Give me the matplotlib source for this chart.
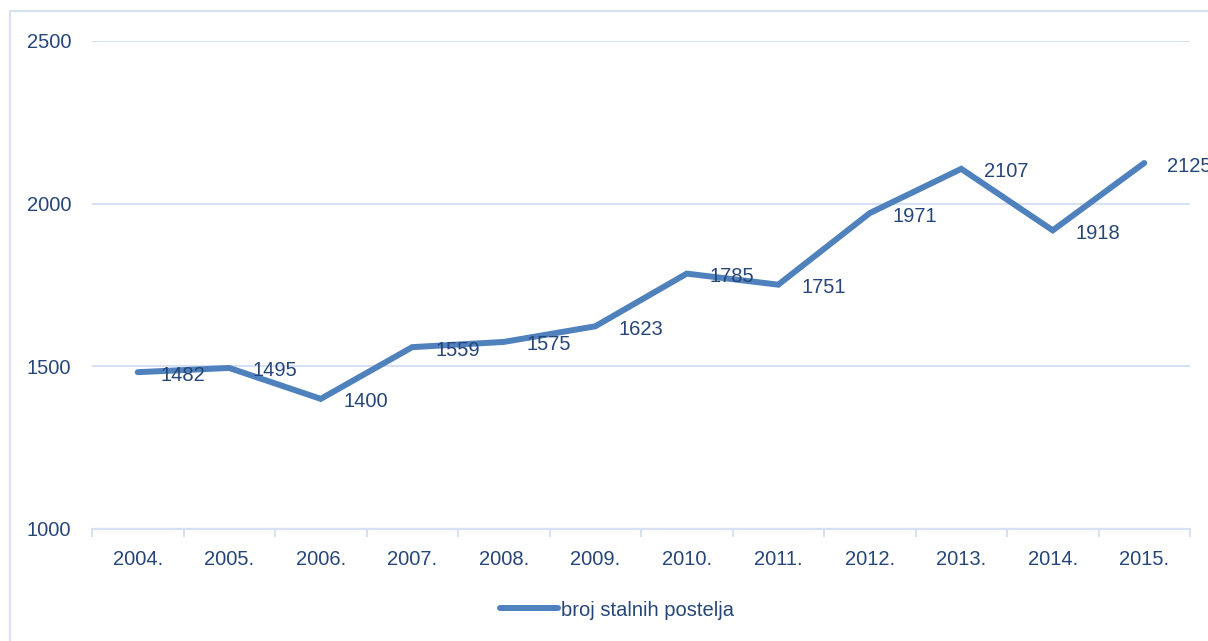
import matplotlib
matplotlib.use("Agg")
import matplotlib.pyplot as plt
from matplotlib.patches import Rectangle

years = ["2004.", "2005.", "2006.", "2007.", "2008.", "2009.",
         "2010.", "2011.", "2012.", "2013.", "2014.", "2015."]
beds = [1482, 1495, 1400, 1559, 1575, 1623, 1785, 1751, 1971, 2107, 1918, 2125]
y_ticks = [1000, 1500, 2000, 2500]

text_color = "#26467A"
line_color = "#4F81BD"
grid_color = "#D6E2F3"

plt.rcParams["font.family"] = ["Liberation Sans", "DejaVu Sans"]
plt.rcParams["font.size"] = 14.5

fig = plt.figure(figsize=(12.08, 6.41), dpi=100)
ax = fig.add_axes([92 / 1208, 1 - 529 / 641, (1190 - 92) / 1208, (529 - 41) / 641])

# okvir grafikona
fig.patches.append(Rectangle((10 / 1208, -0.1), 1.2, 1 - 11 / 641 + 0.1,
                             transform=fig.transFigure, fill=False,
                             edgecolor=grid_color, linewidth=1.5))

x = list(range(len(years)))
ax.plot(x, beds, color=line_color, linewidth=4.3, solid_capstyle="round",
        solid_joinstyle="miter", label="broj stalnih postelja", zorder=3)

for xi, v in zip(x, beds):
    ax.annotate(str(v), (xi, v), xytext=(23, -3), textcoords="offset pixels",
                ha="left", va="center", color=text_color, fontsize=14.5,
                annotation_clip=False)

ax.set_xlim(-0.5, len(years) - 0.5)
ax.set_ylim(1000, 2500)
ax.set_yticks(y_ticks)
ax.set_yticklabels([str(t) for t in y_ticks])
ax.grid(axis="y", color=grid_color, linewidth=1.5)
ax.set_axisbelow(True)

ax.set_xticks([i - 0.5 for i in range(len(years) + 1)])
ax.set_xticklabels([])
ax.set_xticks(x, minor=True)
ax.set_xticklabels(years, minor=True)
ax.tick_params(axis="x", which="major", length=6, width=1.5, color=grid_color)
ax.tick_params(axis="x", which="minor", length=0, pad=15, colors=text_color)
ax.tick_params(axis="y", length=0, pad=15, colors=text_color)

for side in ["top", "right", "left"]:
    ax.spines[side].set_visible(False)
ax.spines["bottom"].set_color(grid_color)
ax.spines["bottom"].set_linewidth(1.5)

leg = fig.legend(loc="center", bbox_to_anchor=(617 / 1208, 1 - 610 / 641),
                 frameon=False, handlelength=2.9, handletextpad=0.15, fontsize=14.5)
for t in leg.get_texts():
    t.set_color(text_color)

fig.savefig("out.png", dpi=100)
